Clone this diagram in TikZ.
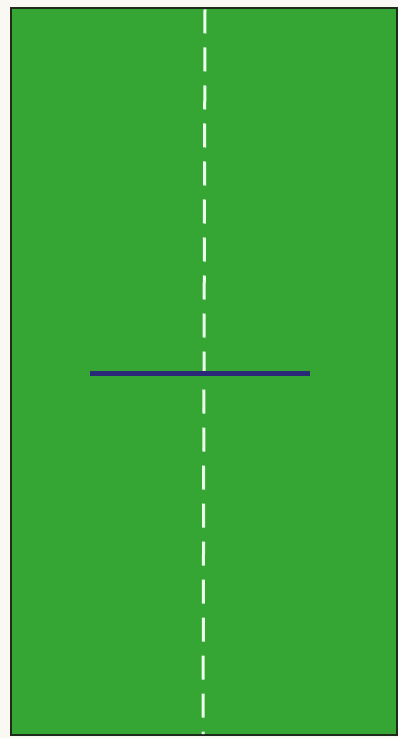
\documentclass[tikz,border=0pt]{standalone}
\definecolor{field}{HTML}{35A634}
\definecolor{navy}{HTML}{2B2A78}
\definecolor{edge}{HTML}{1E2A1A}
\definecolor{paper}{HTML}{FAF8F2}
\begin{document}
\begin{tikzpicture}[x=1pt,y=-1pt,
  fieldbox/.style={fill=field,draw=edge,line width=2.5pt},
  centerline/.style={draw=white!92!green,line width=3pt,dash pattern=on 24pt off 14pt},
  barline/.style={draw=navy,line width=5pt}]
\useasboundingbox (0,0) rectangle (398,738);
\fill[paper] (0,0) rectangle (398,738);
\path[fieldbox] (11,8) rectangle (397,735);
\coordinate (top) at (205,9.5);
\coordinate (bot) at (203,734);
\draw[centerline] (top) -- (bot);
\coordinate (bl) at (90,373.5);
\coordinate (br) at (310,373.5);
\draw[barline] (bl) -- (br);
\end{tikzpicture}
\end{document}
